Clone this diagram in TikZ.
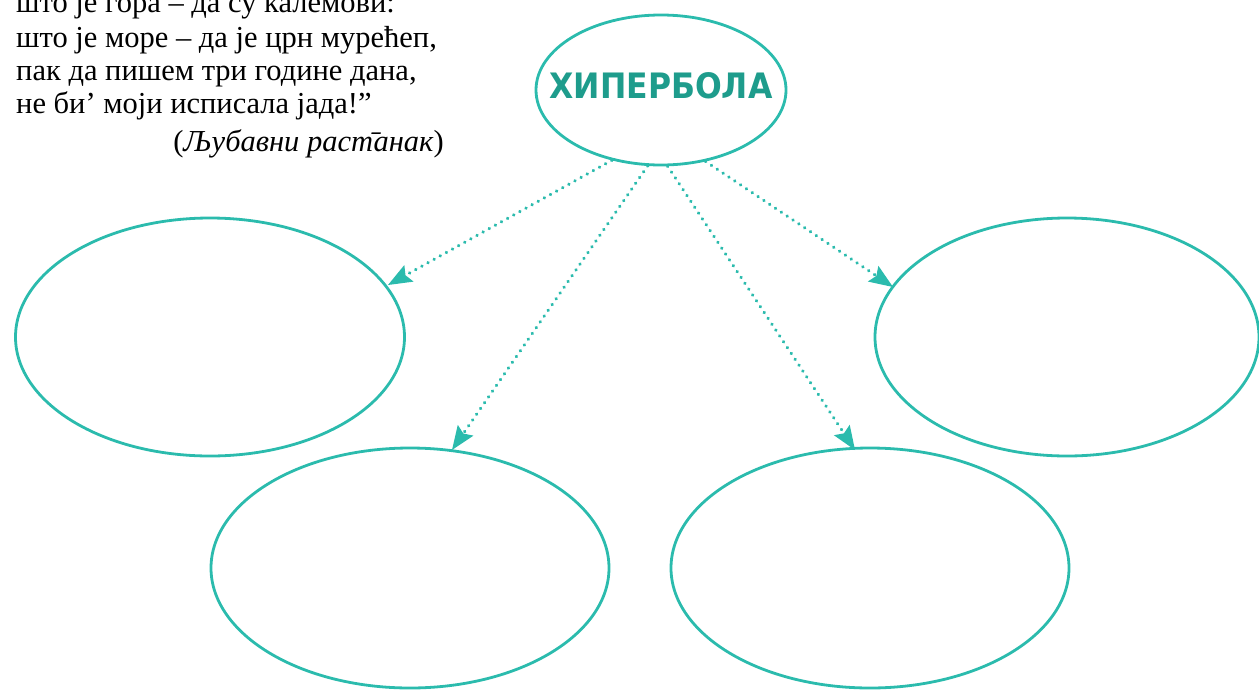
\documentclass[tikz,border=0pt]{standalone}
\usepackage{fontspec}
\setmainfont{Liberation Serif}[Script=Cyrillic,Language=Serbian]
\newfontfamily\titlefont{DejaVu Sans Condensed}[Script=Cyrillic]
\usetikzlibrary{shapes.geometric,arrows.meta}
\definecolor{teal1}{HTML}{2BBBAD}
\definecolor{teal2}{HTML}{1E9C8C}
\tikzset{
  bubble/.style={draw=teal1,line width=2.8pt,ellipse,inner sep=0pt},
  link/.style={draw=teal1,line width=3.6pt,dash pattern=on 0.01pt off 7pt,line cap=round,
    -{Stealth[inset=4pt,length=24pt,width=19pt,fill=teal1,line width=0pt]}},
  poem/.style={anchor=base west,inner sep=0pt,font=\fontsize{30.5}{34}\selectfont},
}
\begin{document}
\begin{tikzpicture}[x=1pt,y=-1pt]
\useasboundingbox (0,0) rectangle (1259,689);
% poem
\node[poem] (l1) at (16,12) {што је гора – да су калемови:};
\node[poem] (l2) at (16,47) {што је море – да је црн мурећеп,};
\node[poem] (l3) at (16,80) {пак да пишем три године дана,};
\node[poem] (l4) at (16,113) {не би’ моји исписала јада!”};
\node[poem,anchor=base east] (src) at (444,151) {(\textit{Љубавни раст̄анак})};
% ellipses
\node[bubble,minimum width=250pt,minimum height=150pt] (top) at (661,90) {};
\node[text=teal2,font=\titlefont\bfseries\fontsize{35}{40}\selectfont] (title) at (661,86) {ХИПЕРБОЛА};
\node[bubble,minimum width=389pt,minimum height=238pt] (ml) at (210,337) {};
\node[bubble,minimum width=384pt,minimum height=238pt] (mr) at (1067,337) {};
\node[bubble,minimum width=398pt,minimum height=240pt] (bl) at (410,568) {};
\node[bubble,minimum width=398pt,minimum height=240pt] (br) at (870,568) {};
% connectors
\coordinate (e1) at (388,285);
\coordinate (e2) at (452,450);
\coordinate (e3) at (855,450);
\coordinate (e4) at (893,287);
\draw[link] (top.-125) -- (e1);
\draw[link] (top.-100) -- (e2);
\draw[link] (top.-85) -- (e3);
\draw[link] (top.-58) -- (e4);
\end{tikzpicture}
\end{document}
